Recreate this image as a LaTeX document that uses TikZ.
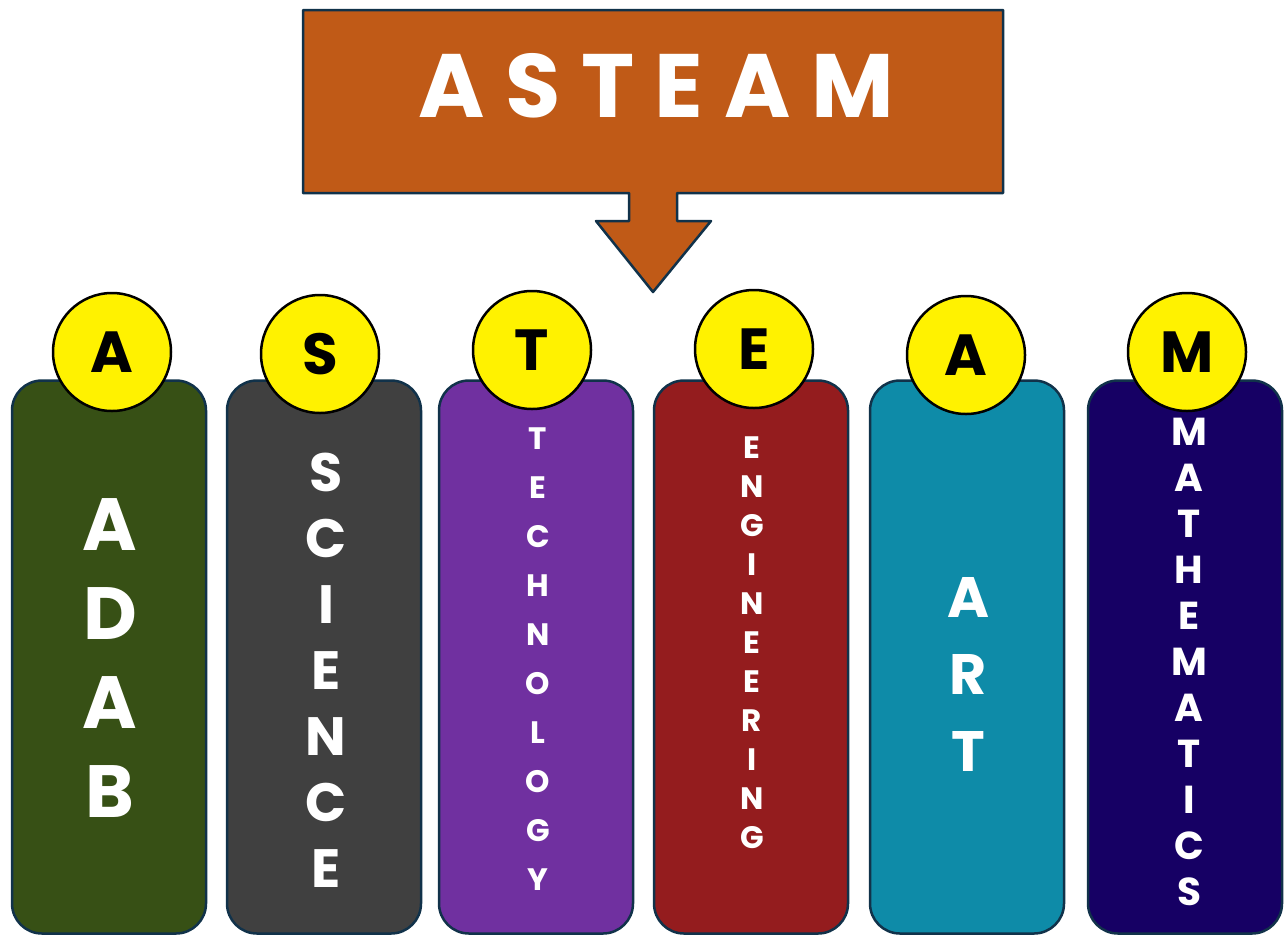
\documentclass[tikz,border=0pt]{standalone}
\usepackage{fontspec}
\setmainfont{Poppins}
\definecolor{titlebrown}{HTML}{C05A17}
\definecolor{edgeblue}{HTML}{11324A}
\definecolor{adabgreen}{HTML}{375015}
\definecolor{sciencegray}{HTML}{404040}
\definecolor{techpurple}{HTML}{7030A0}
\definecolor{engred}{HTML}{941C1E}
\definecolor{artteal}{HTML}{0E8BA8}
\definecolor{mathnavy}{HTML}{160064}
\begin{document}
\begin{tikzpicture}[x=1pt,y=-1pt,inner sep=0pt,outer sep=0pt,
pillar/.style={draw=edgeblue,line width=2.5pt,rectangle,rounded corners=30pt,minimum width=194pt,minimum height=553pt},
badge/.style={draw=black,line width=2.5pt,circle,fill=yellow,minimum size=118pt,font=\bfseries\fontsize{58}{58}\selectfont},
stack/.style={anchor=north,align=center,text=white,font=\bfseries}]

\useasboundingbox (0,0) rectangle (1287,935);

% title arrow
\draw[fill=titlebrown,draw=edgeblue,line width=2.5pt,line join=round]
  (303,10) -- (1003,10) -- (1003,193) -- (677,193) -- (677,221) -- (711,221)
  -- (653,292) -- (596,221) -- (629,221) -- (629,193) -- (303,193) -- cycle;
\draw (418,117) node[anchor=base west,text=white,font=\bfseries\fontsize{90}{90}\selectfont\addfontfeature{LetterSpace=23}] (title) {ASTEAM};

% pillars
\draw (109,657) node[pillar,fill=adabgreen] (adab) {};
\draw (324,657) node[pillar,fill=sciencegray] (science) {};
\draw (536,657) node[pillar,fill=techpurple] (tech) {};
\draw (751,657) node[pillar,fill=engred] (eng) {};
\draw (967,657) node[pillar,fill=artteal] (art) {};
\draw (1185,657) node[pillar,fill=mathnavy] (math) {};

% words
\draw (110,499) node[stack,font=\bfseries\fontsize{74}{89}\selectfont] (adabword) {A\\D\\A\\B};
\draw (326,453) node[stack,font=\bfseries\fontsize{54}{66}\selectfont] (scienceword) {S\\C\\I\\E\\N\\C\\E};
\draw (538,428) node[stack,font=\bfseries\fontsize{31}{49}\selectfont] (techword) {T\\E\\C\\H\\N\\O\\L\\O\\G\\Y};
\draw (752,437) node[stack,font=\bfseries\fontsize{31}{39}\selectfont] (engword) {E\\N\\G\\I\\N\\E\\E\\R\\I\\N\\G};
\draw (968,577) node[stack,font=\bfseries\fontsize{57}{77}\selectfont] (artword) {A\\R\\T};
\draw (1189,418) node[stack,font=\bfseries\fontsize{39}{46}\selectfont] (mathword) {M\\A\\T\\H\\E\\M\\A\\T\\I\\C\\S};

% letter badges
\draw (112,352) node[badge] (adabbadge) {A};
\draw (320,354) node[badge] (sciencebadge) {S};
\draw (532,350) node[badge] (techbadge) {T};
\draw (754,349) node[badge] (engbadge) {E};
\draw (966,355) node[badge] (artbadge) {A};
\draw (1187,352) node[badge] (mathbadge) {M};

\end{tikzpicture}
\end{document}
